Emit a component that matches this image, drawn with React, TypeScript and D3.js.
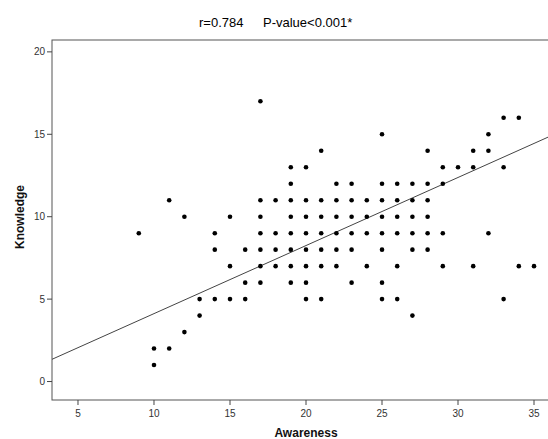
import React from "react";
import * as d3 from "d3";

// Knowledge score -> Awareness scores observed at that knowledge level
const knowledgeLevels = [17, 16, 15, 14, 13, 12, 11, 10, 9, 8, 7, 6, 5, 4, 3, 2, 1];
const awarenessByLevel = [
  [17],
  [33, 34],
  [25, 32],
  [21, 28, 31, 32],
  [19, 20, 29, 30, 31, 33],
  [19, 22, 23, 25, 26, 27, 28, 29],
  [11, 17, 18, 19, 20, 21, 22, 23, 24, 25, 26, 27, 28],
  [12, 15, 17, 19, 20, 21, 22, 23, 24, 25, 26, 27, 28],
  [9, 14, 17, 18, 19, 20, 21, 22, 23, 24, 25, 26, 27, 28, 29, 32],
  [14, 16, 17, 18, 19, 20, 21, 22, 23, 25, 27, 28],
  [15, 17, 18, 19, 20, 21, 22, 24, 26, 29, 31, 34, 35],
  [16, 17, 19, 20, 23, 25],
  [13, 14, 15, 16, 20, 21, 25, 26, 33],
  [13, 27],
  [12],
  [10, 11],
  [10],
];

const xTicks = [5, 10, 15, 20, 25, 30, 35];
const yTicks = [0, 5, 10, 15, 20];

// fit line
const fitIntercept = -0.01;
const fitSlope = 0.413;

const titleR = "r=0.784";
const titleP = "P-value<0.001*";

const W = 548;
const H = 439;
const margin = { top: 40, right: 0, bottom: 39, left: 52 };

const App = () => {
  const points = knowledgeLevels.flatMap((k, i) =>
    awarenessByLevel[i].map((a) => ({ a, k }))
  );

  const x = d3
    .scaleLinear()
    .domain([3.29, 35.92])
    .range([margin.left, W - margin.right]);
  const y = d3
    .scaleLinear()
    .domain([-1.12, 20.72])
    .range([H - margin.bottom, margin.top]);

  const [x0, x1] = x.domain();
  const line = d3
    .line<number>()
    .x((d) => x(d))
    .y((d) => y(fitIntercept + fitSlope * d));

  const font = "'Liberation Sans', Arial, sans-serif";
  const bottom = H - margin.bottom;

  return (
    <svg
      width={W}
      height={H}
      style={{ position: "absolute", left: 0, top: 0, background: "#fff" }}
      fontFamily={font}
    >
      <rect x={0} y={0} width={W} height={H} fill="#fff" />
      <text x={199} y={27} fontSize={13} fill="#000">
        {titleR}
      </text>
      <text x={263} y={27} fontSize={13} fill="#000">
        {titleP}
      </text>

      {/* frame */}
      <rect
        x={margin.left}
        y={margin.top}
        width={W - margin.left - margin.right + 2}
        height={bottom - margin.top}
        fill="none"
        stroke="#555"
        strokeWidth={1}
      />

      {/* y axis */}
      {yTicks.map((t) => (
        <g key={"y" + t}>
          <line x1={margin.left - 5} x2={margin.left} y1={y(t)} y2={y(t)} stroke="#444" />
          <text
            x={margin.left - 7}
            y={y(t)}
            dy="0.35em"
            textAnchor="end"
            fontSize={10}
            fill="#333"
          >
            {t}
          </text>
        </g>
      ))}

      {/* x axis */}
      {xTicks.map((t) => (
        <g key={"x" + t}>
          <line x1={x(t)} x2={x(t)} y1={bottom} y2={bottom + 5} stroke="#444" />
          <text x={x(t)} y={bottom + 17} textAnchor="middle" fontSize={10} fill="#333">
            {t}
          </text>
        </g>
      ))}

      <text x={306} y={437} textAnchor="middle" fontSize={12} fontWeight="bold" fill="#111">
        Awareness
      </text>
      <text
        transform={`translate(24,217) rotate(-90)`}
        textAnchor="middle"
        fontSize={12}
        fontWeight="bold"
        fill="#111"
      >
        Knowledge
      </text>

      <g clipPath="url(#plot)">
        <clipPath id="plot">
          <rect x={margin.left} y={margin.top} width={W - margin.left} height={bottom - margin.top} />
        </clipPath>
        <path d={line([x0, x1]) ?? ""} fill="none" stroke="#444" strokeWidth={1} />
      </g>

      {points.map((p, i) => (
        <circle key={i} cx={x(p.a)} cy={y(p.k)} r={2.3} fill="#000" />
      ))}
    </svg>
  );
};

export default App;
